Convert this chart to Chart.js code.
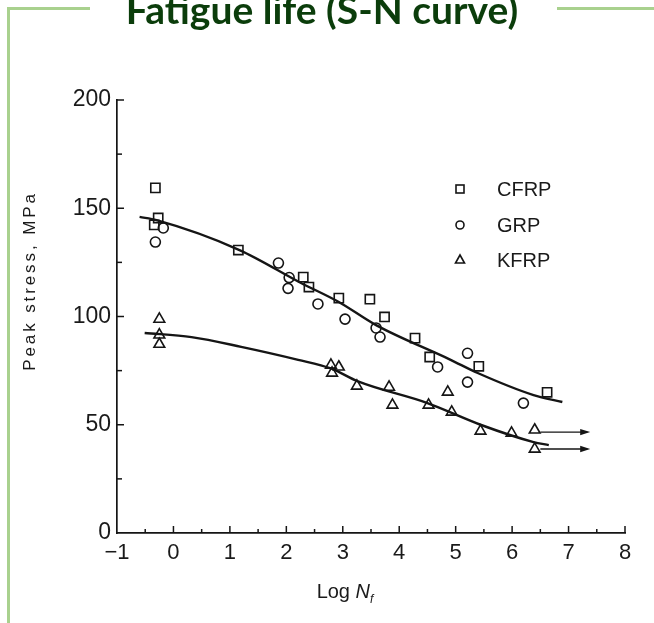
<!DOCTYPE html>
<html><head><meta charset="utf-8">
<script src="https://cdn.jsdelivr.net/npm/chart.js@4.4.0/dist/chart.umd.min.js"></script>
<style>
html,body{margin:0;padding:0;background:#fff;}
#wrap{position:relative;width:654px;height:623px;overflow:hidden;background:#fff;}
canvas{position:absolute;left:0;top:0;}
.g{position:absolute;background:#a9d18e;}
#title{position:absolute;left:-5px;width:654px;top:-11px;line-height:40px;text-align:center;font-family:Lato,'Open Sans',sans-serif;font-weight:bold;font-size:39px;color:#0b3d0b;white-space:nowrap;}
#xt{position:absolute;left:0;width:690px;top:579px;line-height:24px;text-align:center;font-family:'Liberation Sans',Arial,sans-serif;font-size:20px;color:#1a1a1a;}
#xt sub{font-size:12px;font-style:italic;}
#yt{position:absolute;left:-70px;top:270px;width:200px;line-height:22px;text-align:center;transform:rotate(-90deg);font-family:'Liberation Sans',Arial,sans-serif;font-size:17px;letter-spacing:2.9px;color:#1a1a1a;white-space:nowrap;}
</style></head>
<body><div id="wrap">
<canvas id="c" width="654" height="623"></canvas>
<div class="g" style="left:7px;top:7px;width:3px;height:620px"></div>
<div class="g" style="left:7px;top:7px;width:83px;height:3px"></div>
<div class="g" style="left:557px;top:7px;width:97px;height:3px"></div>
<div id="title">Fatigue life (S-N curve)</div>
<div id="yt">Peak stress, MPa</div>
<div id="xt">Log <i>N</i><sub>f</sub></div>
</div>
<script>
// ---- data ----
const xTicks = [-1,0,1,2,3,4,5,6,7,8];
const yTicks = [0,50,100,150,200];
const seriesNames = ['CFRP','GRP','KFRP'];
const cfrpX = [-0.32,-0.27,-0.34,1.15,2.30,2.40,2.93,3.48,3.74,4.28,4.54,5.41,6.62];
const cfrpY = [159.4,145.5,142.3,130.7,118.2,113.6,108.5,108.0,99.8,90.0,81.3,77.0,65.0];
const grpX = [-0.18,-0.32,1.86,2.05,2.03,2.56,3.04,3.59,3.66,4.68,5.21,5.21,6.20];
const grpY = [140.9,134.4,124.7,118.0,113.0,105.8,98.8,94.7,90.5,76.7,83.0,69.7,60.0];
const kfrpX = [-0.25,-0.25,-0.25,2.79,2.93,2.81,3.25,3.82,3.88,4.52,4.86,4.93,5.44,5.99,6.40,6.40];
const kfrpY = [98.8,91.5,87.2,77.6,76.7,73.9,67.9,67.4,59.1,59.1,65.1,55.9,47.1,46.2,47.6,38.8];
const fitUpperX = [-0.60,-0.30,1.17,2.26,2.93,3.59,4.91,5.39,6.38,6.89];
const fitUpperY = [146.0,144.5,130.7,115.5,106.7,96.0,80.0,73.9,63.7,60.5];
const fitLowerX = [-0.51,0.32,1.20,2.21,2.79,3.27,4.50,5.44,6.38,6.65];
const fitLowerY = [92.4,90.5,86.0,80.0,76.0,70.0,60.0,50.0,42.0,40.6];
const arrowX = [6.50,7.33];
const arrowHiY = [46.6,46.6];
const arrowLoY = [38.8,38.8];

const pts = (xs,ys)=>xs.map((x,i)=>({x:x,y:ys[i]}));
const INK = '#151515';
const TF = "'Liberation Sans', Arial, sans-serif";

const markerDs = (label,xs,ys,style,r)=>({
  type:'scatter', label:label, data:pts(xs,ys), pointStyle:style, pointRadius:r,
  pointBorderColor:INK, pointBackgroundColor:'rgba(0,0,0,0)', pointBorderWidth:1.6, showLine:false
});
const lineDs = (label,xs,ys,w)=>({
  type:'line', label:label, data:pts(xs,ys), borderColor:INK, borderWidth:w, pointRadius:0,
  cubicInterpolationMode:'monotone', fill:false
});

const innerTicks = {
  id:'innerTicks',
  afterDraw(chart){
    const {ctx, scales:{x,y}} = chart;
    ctx.save(); ctx.strokeStyle=INK; ctx.lineWidth=1.5;
    const yb = y.getPixelForValue(0), xl = x.getPixelForValue(-1);
    for(let i=0;i<xTicks.length*2-1;i++){
      const v = -1 + i*0.5; if(v===-1) continue;
      const px = x.getPixelForValue(v), len = (i%2===0)?7:4;
      ctx.beginPath(); ctx.moveTo(px,yb); ctx.lineTo(px,yb-len); ctx.stroke();
    }
    for(let i=1;i<yTicks.length*2-1;i++){
      const v = i*25; const py = y.getPixelForValue(v), len=(i%2===0)?7:5;
      ctx.beginPath(); ctx.moveTo(xl,py); ctx.lineTo(xl+len,py); ctx.stroke();
    }
    // arrow heads
    [arrowHiY,arrowLoY].forEach(ay=>{
      const px = x.getPixelForValue(arrowX[1]), py = y.getPixelForValue(ay[1]);
      ctx.fillStyle=INK; ctx.beginPath(); ctx.moveTo(px+3,py); ctx.lineTo(px-7,py-3.2); ctx.lineTo(px-7,py+3.2); ctx.closePath(); ctx.fill();
    });
    // legend
    const lx=460, ly=[189,225,260], tx=497;
    ctx.lineWidth=1.6; ctx.strokeStyle=INK; ctx.fillStyle='#1a1a1a';
    ctx.font = "20px "+TF; ctx.textBaseline='middle'; ctx.textAlign='left';
    ctx.strokeRect(lx-4,ly[0]-4,8,8);
    ctx.beginPath(); ctx.arc(lx,ly[1],4,0,Math.PI*2); ctx.stroke();
    ctx.beginPath(); ctx.moveTo(lx,ly[2]-5); ctx.lineTo(lx+4.5,ly[2]+3); ctx.lineTo(lx-4.5,ly[2]+3); ctx.closePath(); ctx.stroke();
    seriesNames.forEach((n,i)=>ctx.fillText(n,tx,ly[i]+1));
    ctx.restore();
  }
};

new Chart(document.getElementById('c'),{
  data:{datasets:[
    markerDs(seriesNames[0],cfrpX,cfrpY,'rect',6.5),
    markerDs(seriesNames[1],grpX,grpY,'circle',5),
    markerDs(seriesNames[2],kfrpX,kfrpY,'triangle',6.2),
    lineDs('fit1',fitUpperX,fitUpperY,2.4),
    lineDs('fit2',fitLowerX,fitLowerY,2.4),
    {type:'line',label:'a1',data:pts(arrowX,arrowHiY),borderColor:INK,borderWidth:1.4,pointRadius:0},
    {type:'line',label:'a2',data:pts(arrowX,arrowLoY),borderColor:INK,borderWidth:1.4,pointRadius:0}
  ]},
  options:{
    responsive:false, animation:false, devicePixelRatio:1,
    layout:{padding:{top:100,right:29,left:0,bottom:0}},
    plugins:{legend:{display:false},tooltip:{enabled:false},title:{display:false}},
    scales:{
      x:{type:'linear',min:-1,max:8,
        afterBuildTicks:s=>{s.ticks=xTicks.map(v=>({value:v}));},
        afterFit:s=>{s.height=90;},
        grid:{display:false,drawTicks:false},
        border:{display:true,color:INK,width:1.7},
        ticks:{padding:7,color:'#1a1a1a',font:{family:TF,size:22},
          callback:v=>v<0?'\u2212'+Math.abs(v):String(v)}},
      y:{type:'linear',min:0,max:200,
        afterBuildTicks:s=>{s.ticks=yTicks.map(v=>({value:v}));},
        afterFit:s=>{s.width=117;},
        grid:{display:false,drawTicks:false},
        border:{display:true,color:INK,width:1.7},
        ticks:{padding:6,color:'#1a1a1a',font:{family:TF,size:23}}}
    }
  },
  plugins:[innerTicks]
});
</script>
</body></html>
